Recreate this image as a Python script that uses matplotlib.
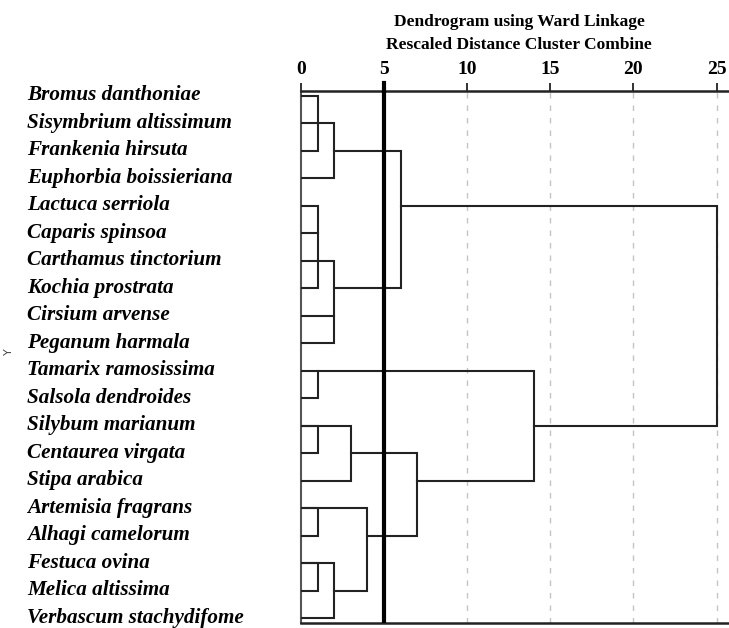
import matplotlib
matplotlib.use("Agg")
import matplotlib.pyplot as plt
import matplotlib.transforms as mtransforms

species = ["Bromus danthoniae", "Sisymbrium altissimum", "Frankenia hirsuta",
           "Euphorbia boissieriana", "Lactuca serriola", "Caparis spinsoa",
           "Carthamus tinctorium", "Kochia prostrata", "Cirsium arvense",
           "Peganum harmala", "Tamarix ramosissima", "Salsola dendroides",
           "Silybum marianum", "Centaurea virgata", "Stipa arabica",
           "Artemisia fragrans", "Alhagi camelorum", "Festuca ovina",
           "Melica altissima", "Verbascum stachydifome"]

# merges as drawn: (top row, bottom row, distance, start of top arm, start of bottom arm)
merge_top = [0, 1, 2, 4, 6, 10, 12, 12, 13, 10, 15, 15, 17, 17, 4]
merge_bot = [2, 3, 7, 7, 9, 11, 13, 14, 16, 14, 16, 18, 18, 19, 12]
merge_dist = [1, 2, 6, 1, 2, 1, 1, 3, 7, 14, 1, 4, 1, 2, 25]
arm_top = [0, 0, 2, 0, 0, 0, 0, 0, 3, 1, 0, 0, 0, 0, 6]
arm_bot = [0, 0, 2, 0, 0, 0, 0, 0, 4, 7, 0, 2, 0, 0, 14]

# leaf lines that end on a bracket without closing it
stub_row = [5, 8]
stub_dist = [1, 2]

ticks = [0, 5, 10, 15, 20, 25]
cut = 5

W, H = 729, 628
fig = plt.figure(figsize=(W / 100, H / 100), dpi=100)
ax = fig.add_axes([301 / W, 5.5 / H, 428 / W, 531.5 / H])
ax.set_xlim(0, 25.75)
ax.set_ylim(19.156, -0.171)

line_c = "#222222"
for r1, r2, d, h1, h2 in zip(merge_top, merge_bot, merge_dist, arm_top, arm_bot):
    ax.plot([h1, d, d, h2], [r1, r1, r2, r2], color=line_c, lw=1.5,
            solid_joinstyle="miter", zorder=3)
for r, d in zip(stub_row, stub_dist):
    ax.plot([0, d], [r, r], color=line_c, lw=1.5, zorder=3)

# dashed guides and the cut line
for t in ticks[2:]:
    ax.axvline(t, color="#c4c4c4", lw=1.0, ls=(0, (4, 5)), zorder=1)
ax.axvline(cut, color="black", lw=3, zorder=4)
ax.plot([cut, cut], [1.0, 1.0 + 8 / 531.5], transform=ax.get_xaxis_transform(),
        color="black", lw=3, clip_on=False, zorder=4)

ax.spines["right"].set_visible(False)
for s in ["top", "bottom"]:
    ax.spines[s].set_linewidth(1.8)
    ax.spines[s].set_color("#222222")
ax.spines["left"].set_linewidth(1.5)
ax.spines["left"].set_color("#555555")

ax.xaxis.tick_top()
ax.set_xticks(ticks)
ax.set_xticklabels([str(t) for t in ticks], fontfamily="Liberation Serif",
                   fontweight="bold", fontsize=14)
ax.tick_params(axis="x", direction="out", length=6, width=1.3, pad=3, color="#222222")
ax.set_yticks([])

trans = mtransforms.blended_transform_factory(fig.transFigure, ax.transData)
for i, name in enumerate(species):
    ax.text(27 / W, i - 0.02, name, transform=trans, ha="left", va="center",
            fontfamily="Liberation Serif", fontweight="bold", fontstyle="italic",
            fontsize=15.2, clip_on=False)

fig.text(519 / W, 1 - 22 / H, "Dendrogram using Ward Linkage", ha="center", va="center",
         fontfamily="Liberation Serif", fontweight="bold", fontsize=12.5)
fig.text(519 / W, 1 - 45 / H, "Rescaled Distance Cluster Combine", ha="center", va="center",
         fontfamily="Liberation Serif", fontweight="bold", fontsize=12.5)
fig.text(9 / W, 1 - 352 / H, "Y", rotation=90, ha="center", va="center",
         fontsize=8, color="#444444")

fig.savefig("out.png", dpi=100)
